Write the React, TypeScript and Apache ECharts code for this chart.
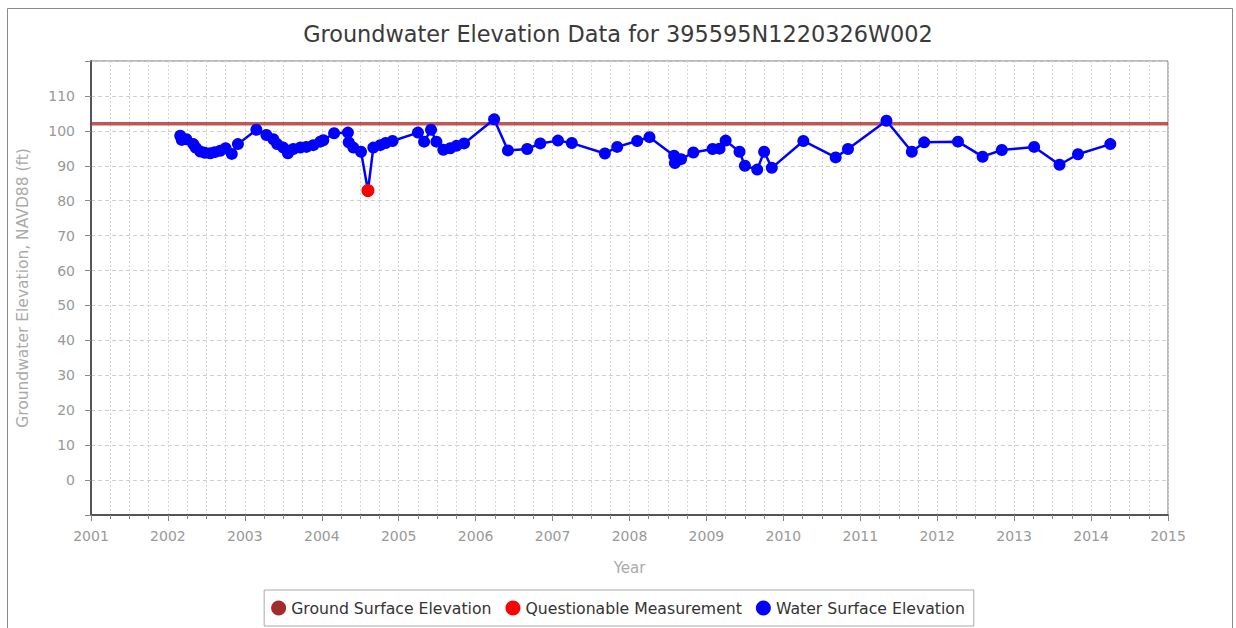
import React, { useEffect, useRef } from "react";
import * as echarts from "echarts";

const titleText = "Groundwater Elevation Data for 395595N1220326W002";
const seriesNames = ["Ground Surface Elevation", "Questionable Measurement", "Water Surface Elevation"];

const groundYears = [2001, 2015];
const groundValues = [102, 102];

const questionableYears = [2004.6];
const questionableValues = [82.9];

const waterYears = [
  2002.16, 2002.18, 2002.24, 2002.33, 2002.36, 2002.42, 2002.48, 2002.55, 2002.61, 2002.68,
  2002.75, 2002.83, 2002.91, 2003.15, 2003.28, 2003.37, 2003.42, 2003.5, 2003.56, 2003.63,
  2003.72, 2003.8, 2003.89, 2003.98, 2004.02, 2004.16, 2004.34, 2004.35, 2004.41, 2004.51,
  2004.6, 2004.67, 2004.76, 2004.83, 2004.92, 2005.25, 2005.33, 2005.42, 2005.49, 2005.58,
  2005.67, 2005.75, 2005.85, 2006.24, 2006.42, 2006.67, 2006.84, 2007.07, 2007.25, 2007.68,
  2007.84, 2008.1, 2008.26, 2008.58, 2008.59, 2008.67, 2008.83, 2009.08, 2009.17, 2009.25,
  2009.43, 2009.5, 2009.66, 2009.75, 2009.85, 2010.26, 2010.68, 2010.84, 2011.34, 2011.67,
  2011.83, 2012.27, 2012.59, 2012.84, 2013.26, 2013.59, 2013.83, 2014.25,
];
const waterValues = [
  98.6, 97.4, 97.6, 96.2, 95.2, 94.1, 93.7, 93.6, 93.9, 94.3,
  95.0, 93.4, 96.2, 100.3, 98.8, 97.6, 96.2, 95.2, 93.6, 94.8,
  95.2, 95.4, 95.9, 96.9, 97.3, 99.3, 99.5, 96.7, 95.2, 94.0,
  82.9, 95.2, 95.9, 96.5, 97.1, 99.5, 96.9, 100.3, 96.9, 94.6,
  95.0, 95.7, 96.4, 103.3, 94.4, 94.8, 96.4, 97.2, 96.5, 93.5,
  95.4, 97.1, 98.2, 92.9, 90.8, 91.9, 93.8, 94.8, 94.9, 97.2,
  94.0, 90.0, 88.9, 94.0, 89.4, 97.1, 92.4, 94.8, 102.9, 94.0,
  96.7, 96.9, 92.6, 94.5, 95.4, 90.3, 93.3, 96.2,
];

const xMin = 2001;
const xMax = 2015;
const yMin = -10;
const yMax = 120;

const FONT = "DejaVu Sans";

export default function App() {
  const ref = useRef<HTMLDivElement>(null);
  useEffect(() => {
    if (!ref.current) return;
    const chart = echarts.init(ref.current, null, { renderer: "svg" });
    const zip = (xs: number[], ys: number[]) => xs.map((x, i) => [x, ys[i]]);
    chart.setOption({
      animation: false,
      backgroundColor: "#ffffff",
      textStyle: { fontFamily: FONT },
      title: {
        text: titleText,
        left: "center",
        top: 18,
        textStyle: { fontFamily: FONT, fontSize: 22.4, fontWeight: "normal", color: "#3a3a3a" },
      },
      graphic: [
        {
          type: "rect",
          shape: { x: 7.5, y: 8.5, width: 1225, height: 700 },
          style: { fill: "none", stroke: "#8a8a8a", lineWidth: 1 },
          silent: true,
        },
      ],
      legend: {
        left: "center",
        top: 590,
        data: seriesNames,
        icon: "circle",
        itemWidth: 15,
        itemHeight: 15,
        itemGap: 14,
        padding: [9, 9, 9, 7],
        borderColor: "#aaaaaa",
        borderWidth: 1,
        textStyle: { fontFamily: FONT, fontSize: 15.7, color: "#333", lineHeight: 18 },
      },
      grid: {
        left: 91,
        right: 68,
        top: 61,
        bottom: 113,
        containLabel: false,
        show: true,
        borderColor: "#777",
        borderWidth: 1,
      },
      xAxis: {
        type: "value",
        min: xMin,
        max: xMax,
        interval: 1,
        name: "Year",
        nameLocation: "middle",
        nameGap: 45,
        nameTextStyle: { fontFamily: FONT, fontSize: 15, color: "#aaa" },
        axisLine: { show: true, onZero: false, lineStyle: { color: "#555", width: 2 } },
        axisTick: { show: true, length: 6, lineStyle: { color: "#888" } },
        minorTick: { show: true, splitNumber: 4, length: 4, lineStyle: { color: "#888" } },
        axisLabel: {
          margin: 14,
          fontFamily: FONT,
          fontSize: 14,
          color: "#999",
          formatter: (v: number) => String(v),
        },
        splitLine: { show: true, lineStyle: { color: "#d6d6d6", type: [2, 2] } },
        minorSplitLine: { show: true, lineStyle: { color: "#d6d6d6", type: [2, 2] } },
      },
      yAxis: {
        type: "value",
        min: yMin,
        max: yMax,
        interval: 10,
        name: "Groundwater Elevation, NAVD88 (ft)",
        nameLocation: "middle",
        nameGap: 60,
        nameTextStyle: { fontFamily: FONT, fontSize: 15.5, color: "#aaa" },
        axisLine: { show: true, onZero: false, lineStyle: { color: "#555", width: 2 } },
        axisTick: { show: true, length: 6, lineStyle: { color: "#888" } },
        axisLabel: {
          margin: 16,
          fontFamily: FONT,
          fontSize: 14,
          color: "#999",
          formatter: (v: number) => (v < 0 || v > 110 ? "" : String(v)),
        },
        splitLine: { show: true, lineStyle: { color: "#cfcfcf", type: [4, 3] } },
      },
      series: [
        {
          name: seriesNames[0],
          type: "line",
          data: zip(groundYears, groundValues),
          showSymbol: false,
          symbol: "circle",
          color: "#a52a2a",
          lineStyle: { color: "rgba(175,45,45,0.8)", width: 3.5 },
          z: 3,
        },
        {
          name: seriesNames[2],
          type: "line",
          data: zip(waterYears, waterValues),
          symbol: "circle",
          symbolSize: 12,
          color: "#0000ff",
          lineStyle: { color: "#0000ff", width: 2.5 },
          itemStyle: { color: "#0000ff" },
          z: 4,
        },
        {
          name: seriesNames[1],
          type: "scatter",
          data: zip(questionableYears, questionableValues),
          symbol: "circle",
          symbolSize: 13,
          color: "#ff0000",
          itemStyle: { color: "#ff0000", opacity: 1 },
          z: 5,
        },
      ],
    });
    return () => chart.dispose();
  }, []);
  return (
    <div
      ref={ref}
      style={{ position: "fixed", left: 0, top: 0, width: 1236, height: 628 }}
    />
  );
}
